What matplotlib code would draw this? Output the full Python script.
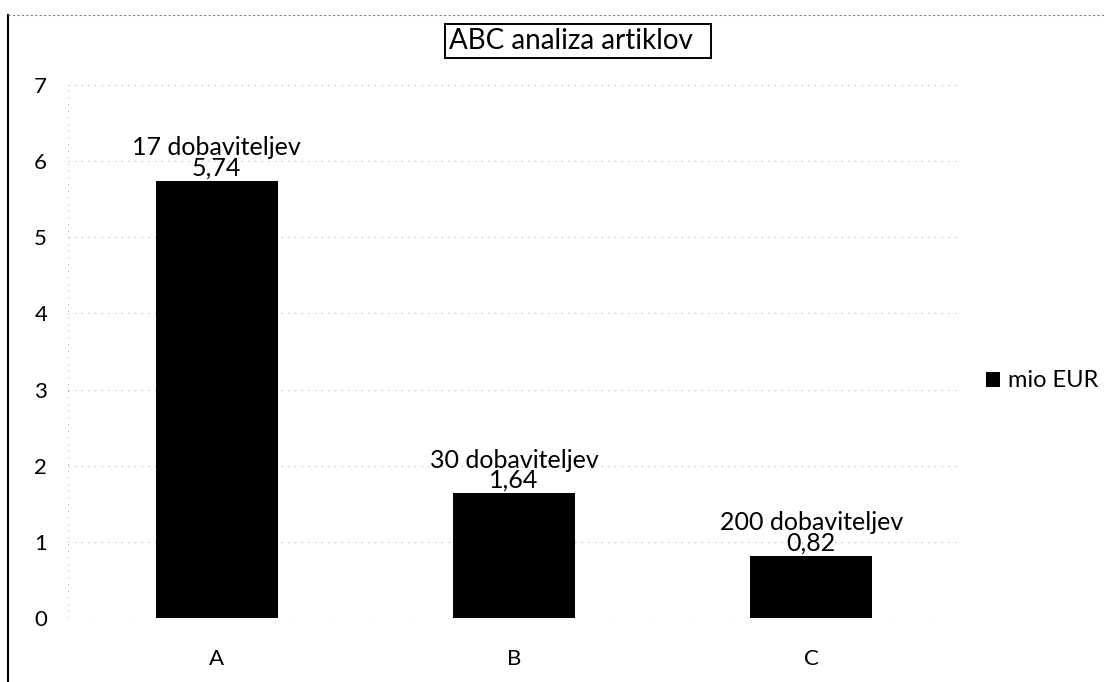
import matplotlib.pyplot as plt
from matplotlib.lines import Line2D
from matplotlib.patches import Patch

plt.rcParams['font.family'] = ['Lato', 'DejaVu Sans']

kategorije = ['A', 'B', 'C']
vrednosti = [5.74, 1.64, 0.82]
dobavitelji = ['17 dobaviteljev', '30 dobaviteljev', '200 dobaviteljev']
oznake_vrednosti = ['5,74', '1,64', '0,82']

fig = plt.figure(figsize=(11.04, 6.82), dpi=100)
ax = fig.add_axes([68 / 1104, 1 - 618 / 682, (960 - 68) / 1104, (618 - 85) / 682])

x = range(len(kategorije))
bars = ax.bar(x, vrednosti, width=0.41, color='black', zorder=3, label='mio EUR')

ax.set_xlim(-0.5, 2.5)
ax.set_ylim(0, 7)
ax.set_yticks(range(0, 8))
ax.set_xticks(list(x))
ax.set_xticklabels(kategorije)
ax.tick_params(axis='both', length=0, labelsize=16)
ax.tick_params(axis='y', pad=15)
ax.tick_params(axis='x', pad=22)

for s in ax.spines.values():
    s.set_visible(False)
ax.grid(axis='y', color='#b0b0b0', linestyle=(0, (1, 5)), linewidth=0.8, zorder=0)
ax.axvline(-0.5, color='#b0b0b0', linestyle=(0, (1, 5)), linewidth=0.8)

# oznake nad stolpci
for xi, v, d, t in zip(x, vrednosti, dobavitelji, oznake_vrednosti):
    ax.annotate(d + '\n' + t, (xi, v), xytext=(0, 1), textcoords='offset points',
                ha='center', va='bottom', fontsize=18, linespacing=0.85)

# naslov v okvirju
fig.text(449 / 1104, 1 - 41 / 682, 'ABC analiza artiklov  ', ha='left', va='center', fontsize=20,
         bbox=dict(boxstyle='square,pad=0.15', facecolor='white', edgecolor='black', linewidth=1.4))

fig.legend(handles=[Patch(facecolor='black', label='mio EUR')], loc='center left',
           bbox_to_anchor=(965 / 1104, 1 - 381 / 682), frameon=False, fontsize=17,
           handlelength=0.6, handleheight=0.6, handletextpad=0.3)

# okvir grafikona
fig.add_artist(Line2D([8 / 1104, 8 / 1104], [0, 1 - 15 / 682], color='black', linewidth=1.5))
fig.add_artist(Line2D([8 / 1104, 1], [1 - 15 / 682, 1 - 15 / 682], color='#808080',
                      linewidth=0.8, linestyle=(0, (2, 2))))

fig.savefig('out.png', dpi=100, facecolor='white')
